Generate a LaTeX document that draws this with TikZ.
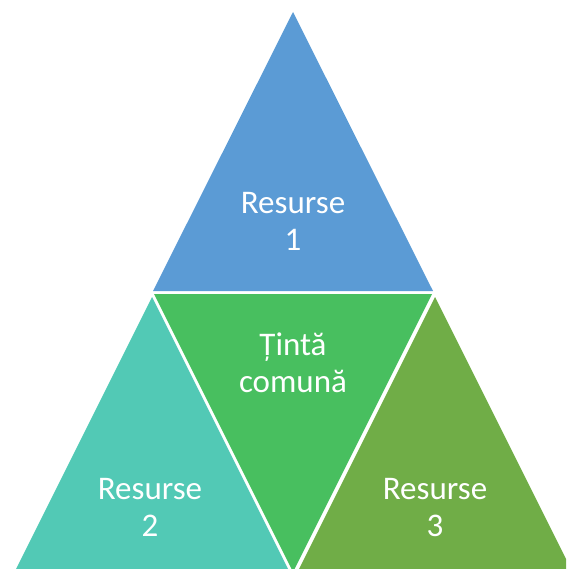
\documentclass[tikz,border=0pt]{standalone}
\usepackage{fontspec}
\setmainfont{Carlito}
\definecolor{cblue}{HTML}{5B9BD5}
\definecolor{cteal}{HTML}{52C9B5}
\definecolor{cgreen}{HTML}{48BF5F}
\definecolor{colive}{HTML}{70AD47}
\tikzset{
  lbl/.style={text=white, align=center, font=\fontsize{33}{37}\selectfont, inner sep=0pt, anchor=base}
}
\begin{document}
\begin{tikzpicture}[x=1pt,y=-1pt]
\useasboundingbox (0,0) rectangle (566,569);
\clip (0,0) rectangle (566,569);
\fill[cblue] (293,12) -- (153,291) -- (433,291) -- cycle;
\fill[cteal] (152,297) -- (8,585) -- (296,585) -- cycle;
\fill[cgreen] (154,294) -- (432,294) -- (293,572) -- cycle;
\fill[colive] (435,297) -- (291,585) -- (579,585) -- cycle;
\node[lbl] (r1) at (293,250) {Resurse\\1};
\node[lbl] (tc) at (293,392) {Țintă\\comună};
\node[lbl] (r2) at (150,536) {Resurse\\2};
\node[lbl] (r3) at (435,536) {Resurse\\3};
\end{tikzpicture}
\end{document}
